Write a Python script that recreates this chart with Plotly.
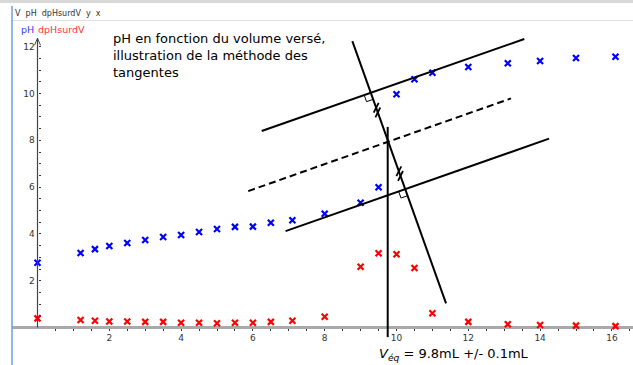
import numpy as np
import plotly.graph_objects as go

# ---- data ----
V = [0, 1.2, 1.6, 2.0, 2.5, 3.0, 3.5, 4.0, 4.5, 5.0, 5.5, 6.0, 6.5, 7.1, 8.0,
     9.0, 9.5, 10.0, 10.5, 11.0, 12.0, 13.1, 14.0, 15.0, 16.1]
pH = [2.77, 3.18, 3.35, 3.48, 3.61, 3.74, 3.87, 3.95, 4.08, 4.21, 4.30, 4.31, 4.48,
      4.58, 4.86, 5.33, 5.99, 9.97, 10.61, 10.89, 11.13, 11.29, 11.39, 11.52, 11.57]
dpHsurdV = [0.39, 0.32, 0.29, 0.26, 0.26, 0.24, 0.24, 0.20, 0.20, 0.18, 0.20, 0.20, 0.24,
            0.29, 0.46, 2.60, 3.17, 3.13, 2.54, 0.61, 0.24, 0.14, 0.11, 0.08, 0.06]

x_tick_vals = [2, 4, 6, 8, 10, 12, 14, 16]
x_minor_vals = [0.5 * k for k in range(1, 34)]
y_tick_vals = [2, 4, 6, 8, 10, 12]
y_minor_vals = [0.5 * k for k in range(1, 25)]

# construction lines (data coordinates)
tangent_upper = [(6.245, 8.397), (13.56, 12.33)]
tangent_lower = [(6.91, 4.12), (14.25, 8.07)]
tangent_mid = [(5.87, 5.83), (13.19, 9.79)]
perpendicular = [(8.77, 12.24), (11.38, 1.03)]
v_eq = 9.755
v_eq_span = [-0.41, 8.57]
mark_t = [0.263, 0.505]  # positions of the equal-length marks along the perpendicular

W, H = 633, 365
x_range = [-37.5 / 35.9, (W - 37.5) / 35.9]
y_range = [(327.5 - H) / 23.4, 327.5 / 23.4]
sx = W / (x_range[1] - x_range[0])
sy = H / (y_range[1] - y_range[0])


def to_px(p):
    return np.array([p[0] * sx, -p[1] * sy])


def to_data(q):
    return (q[0] / sx, -q[1] / sy)


def intersect(a, b):
    a1, a2 = to_px(a[0]), to_px(a[1])
    b1, b2 = to_px(b[0]), to_px(b[1])
    da, db = a2 - a1, b2 - b1
    m = np.array([da, -db]).T
    t = np.linalg.solve(m, b1 - a1)
    return a1 + t[0] * da


fig = go.Figure()
fig.add_trace(go.Scatter(x=V, y=pH, mode="markers", name="pH",
                         marker=dict(symbol="x-thin-open", size=6, color="#0000ff",
                                     line=dict(width=2.2, color="#0000ff"))))
fig.add_trace(go.Scatter(x=V, y=dpHsurdV, mode="markers", name="dpHsurdV",
                         marker=dict(symbol="x-thin-open", size=6, color="#ff0000",
                                     line=dict(width=2.2, color="#ff0000"))))

shapes = []
blk = dict(color="black", width=2)
for seg in (tangent_upper, tangent_lower, perpendicular):
    shapes.append(dict(type="line", xref="x", yref="y", x0=seg[0][0], y0=seg[0][1],
                       x1=seg[1][0], y1=seg[1][1], line=blk))
shapes.append(dict(type="line", xref="x", yref="y", x0=tangent_mid[0][0], y0=tangent_mid[0][1],
                   x1=tangent_mid[1][0], y1=tangent_mid[1][1],
                   line=dict(color="black", width=2, dash="7px,4px")))
shapes.append(dict(type="line", xref="x", yref="y", x0=v_eq, y0=v_eq_span[0],
                   x1=v_eq, y1=v_eq_span[1], line=blk))

# right angle markers
p1, p2 = to_px(perpendicular[0]), to_px(perpendicular[1])
pdir = (p2 - p1) / np.linalg.norm(p2 - p1)
for tan in (tangent_upper, tangent_lower):
    t1, t2 = to_px(tan[0]), to_px(tan[1])
    tdir = (t1 - t2) / np.linalg.norm(t1 - t2)
    I = intersect(tan, perpendicular)
    a = 7
    pts = [I + a * tdir, I + a * tdir + a * pdir, I + a * pdir]
    d = [to_data(q) for q in pts]
    path = "M {} {} L {} {} L {} {}".format(d[0][0], d[0][1], d[1][0], d[1][1], d[2][0], d[2][1])
    shapes.append(dict(type="path", xref="x", yref="y", path=path,
                       line=dict(color="black", width=1)))

# equal-length marks
sdir = np.array([0.45, -0.89])
for t in mark_t:
    c = p1 + t * (p2 - p1)
    for off in (-2.5, 2.5):
        cc = c + off * pdir
        a0, a1 = to_data(cc - 5.5 * sdir), to_data(cc + 5.5 * sdir)
        shapes.append(dict(type="line", xref="x", yref="y", x0=a0[0], y0=a0[1],
                           x1=a1[0], y1=a1[1], line=dict(color="black", width=1.8)))

# axes drawn
shapes.append(dict(type="line", xref="x", yref="y", x0=x_range[0] + 12 / sx, y0=0,
                   x1=x_range[1], y1=0, line=dict(color="#a9a9a9", width=3), layer="below"))
y_top = 12.36
shapes.append(dict(type="line", xref="x", yref="y", x0=0, y0=0, x1=0, y1=y_top,
                   line=dict(color="#444444", width=1.2)))
tip = to_px((0, y_top))
la, lb = to_data(tip + np.array([-3, 7])), to_data(tip + np.array([3, 7]))
shapes.append(dict(type="path", xref="x", yref="y",
                   path="M {} {} L {} {} L {} {}".format(la[0], la[1], 0, y_top, lb[0], lb[1]),
                   line=dict(color="#444444", width=1)))

# frame decorations
shapes.append(dict(type="rect", xref="paper", yref="paper", x0=0, x1=1, y0=1 - 3 / H, y1=1,
                   fillcolor="#d8d8d8", line=dict(width=0)))
shapes.append(dict(type="line", xref="paper", yref="paper", x0=12 / W, x1=1, y0=1 - 20.5 / H,
                   y1=1 - 20.5 / H, line=dict(color="#e2e2e2", width=1)))
shapes.append(dict(type="line", xref="paper", yref="paper", x0=12 / W, x1=12 / W, y0=0,
                   y1=1 - 6 / H, line=dict(color="#6f9fd6", width=1.5)))

annotations = [
    dict(xref="paper", yref="paper", x=111 / W, y=1 - 29 / H, xanchor="left", yanchor="top",
         align="left", showarrow=False,
         text="pH en fonction du volume versé,<br>illustration de la méthode des<br>tangentes",
         font=dict(family="DejaVu Sans", size=13, color="black")),
    dict(xref="paper", yref="paper", x=377 / W, y=1 - 354 / H, xanchor="left", yanchor="middle",
         showarrow=False,
         text="<i>V</i><sub><i>éq</i></sub> = 9.8mL +/- 0.1mL",
         font=dict(family="DejaVu Sans", size=13, color="black")),
    dict(xref="paper", yref="paper", x=13 / W, y=1 - 14 / H, xanchor="left", yanchor="middle",
         showarrow=False, text="V  pH  dpHsurdV  y  x",
         font=dict(family="DejaVu Sans", size=8, color="#333333")),
    dict(xref="paper", yref="paper", x=19 / W, y=1 - 29.5 / H, xanchor="left", yanchor="middle",
         showarrow=False, text="pH",
         font=dict(family="DejaVu Sans", size=9.5, color="#3a3aff")),
    dict(xref="paper", yref="paper", x=36 / W, y=1 - 29.5 / H, xanchor="left", yanchor="middle",
         showarrow=False, text="dpHsurdV",
         font=dict(family="DejaVu Sans", size=9.5, color="#ff3333")),
]

fig.update_layout(
    width=W, height=H, margin=dict(l=0, r=0, t=0, b=0),
    paper_bgcolor="white", plot_bgcolor="white", showlegend=False,
    shapes=shapes, annotations=annotations,
    xaxis=dict(range=x_range, anchor="free", position=(H - 327.5) / H, showgrid=False,
               zeroline=False, showline=False, tickmode="array", tickvals=x_tick_vals,
               ticks="outside", ticklen=2, tickcolor="#333333", tickwidth=1,
               tickfont=dict(family="DejaVu Sans", size=9, color="#333333"),
               minor=dict(tickmode="array", tickvals=x_minor_vals, ticks="outside",
                          ticklen=2, tickcolor="#333333")),
    yaxis=dict(range=y_range, anchor="free", position=37.5 / W, showgrid=False,
               zeroline=False, showline=False, tickmode="array", tickvals=y_tick_vals,
               ticks="outside", ticklen=1, tickcolor="#333333",
               tickfont=dict(family="DejaVu Sans", size=9, color="#333333"),
               minor=dict(tickmode="array", tickvals=y_minor_vals, ticks="inside",
                          ticklen=2, tickcolor="#333333")),
)

fig.write_html("out.html", config={"displayModeBar": False},
               post_script="document.body.style.margin='0';document.body.style.overflow='hidden';")
